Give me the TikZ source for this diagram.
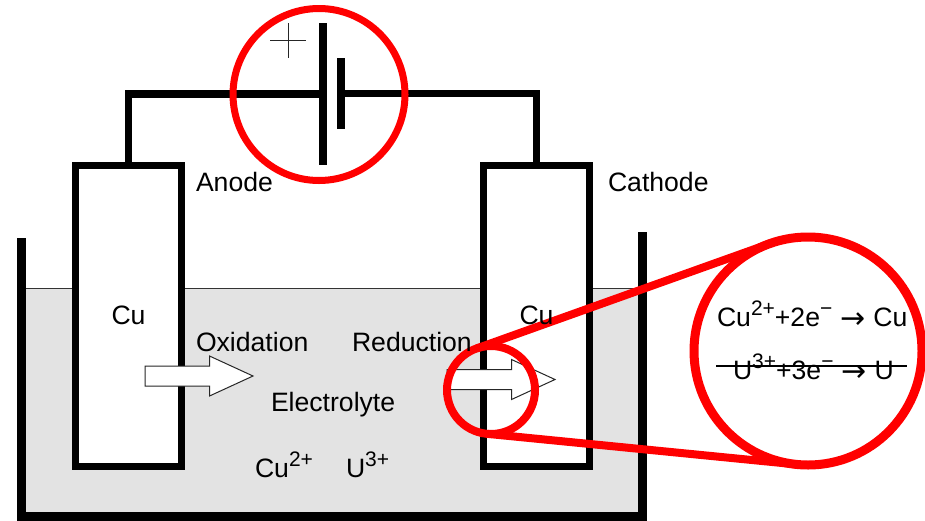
\documentclass[tikz,border=0pt]{standalone}
\usepackage{fontspec}
\setmainfont{Liberation Sans}
\newfontfamily\arrowfont{DejaVu Sans}
\newcommand{\supr}[1]{\raisebox{11pt}{\fontsize{21}{23}\selectfont #1}}
\newcommand{\rarr}{\hspace{8pt}\raisebox{-2.5pt}{\arrowfont\fontsize{30}{30}\selectfont →}\hspace{8pt}}
\definecolor{electrolyte}{HTML}{E3E3E3}
\definecolor{ringred}{HTML}{FF0000}
\tikzset{
  x=1pt,y=-1pt,
  lbl/.style={anchor=base west,inner sep=0pt,outer sep=0pt,font=\fontsize{26.6}{30}\selectfont},
  electrode/.style={draw=black,line width=7pt,fill=white,minimum width=106.5pt,minimum height=301pt,inner sep=0pt,outer sep=0pt},
  wire/.style={draw=black,line width=7.5pt,miter limit=10},
  plate/.style={fill=black,inner sep=0pt,outer sep=0pt},
  ring/.style={circle,draw=ringred,inner sep=0pt,outer sep=0pt},
  flowarrow/.style={draw=black!85,fill=white,line width=1pt,line join=miter},
  zoomline/.style={draw=ringred,line width=8pt},
}
\begin{document}
\begin{tikzpicture}
\useasboundingbox (0,0) rectangle (925,520);
% electrolyte
\fill[electrolyte] (26,288.5) rectangle (638,512);
\draw[black!80,line width=1pt] (26,288.5) -- (638,288.5);
% wire and battery
\node[electrode] (anode) at (128.25,315.5) {};
\node[electrode] (cathode) at (536.25,315.5) {};
\node[plate,minimum width=8pt,minimum height=142pt] (longplate) at (323,94) {};
\node[plate,minimum width=8pt,minimum height=71pt] (shortplate) at (341,93.5) {};
\draw[wire] (anode.north) |- (longplate.west);
\draw[wire] (cathode.north) |- (shortplate.east);
% tank
\draw[black,line width=9pt] (21.5,238) -- (21.5,516.5) -- (642.5,516.5) -- (642.5,232);
% plus sign
\coordinate (plusw) at (270,40);
\coordinate (pluse) at (306,40);
\coordinate (plusn) at (288,23);
\coordinate (pluss) at (288,58);
\draw[black!85,line width=1pt] (plusw) -- (pluse) (plusn) -- (pluss);
% arrows
\draw[flowarrow] (145,366) -- (209.5,366) -- (209.5,356) -- (253,376) -- (209.5,396) -- (209.5,386) -- (145,386) -- cycle;
\draw[flowarrow] (447,369.5) -- (511.5,369.5) -- (511.5,359.5) -- (555,379.5) -- (511.5,399.5) -- (511.5,389.5) -- (447,389.5) -- cycle;
% red rings
\node[ring,line width=7pt,minimum size=172pt] (batring) at (319,94.5) {};
\node[ring,line width=8pt,minimum size=88pt] (small) at (491,390) {};
\node[ring,line width=9pt,minimum size=228pt] (big) at (808,351) {};
\draw[zoomline] (small.109.7) -- (big.109.7);
\draw[zoomline] (small.-95.66) -- (big.-95.66);
% labels
\node[lbl] (lanode) at (196,191) {Anode};
\node[lbl] (lcathode) at (608,191) {Cathode};
\node[lbl] (culeft) at (111.5,324) {Cu};
\node[lbl] (curight) at (519.5,324) {Cu};
\node[lbl] (oxid) at (196,351) {Oxidation};
\node[lbl] (redu) at (352,351) {Reduction};
\node[lbl] (elec) at (271,411) {Electrolyte};
\node[lbl] (cuion) at (255,477) {Cu\supr{2+}};
\node[lbl] (uion) at (346,477) {U\supr{3+}};
% equations
\node[lbl] (eqone) at (717,326) {Cu\supr{2+}+2e\supr{−}\rarr Cu};
\node[lbl] (eqtwo) at (733,379) {U\supr{3+}+3e\supr{−}\rarr U};
\coordinate (strikew) at (716,366);
\coordinate (strikee) at (907,366);
\draw[black,line width=1.5pt] (strikew) -- (strikee);
\end{tikzpicture}
\end{document}
